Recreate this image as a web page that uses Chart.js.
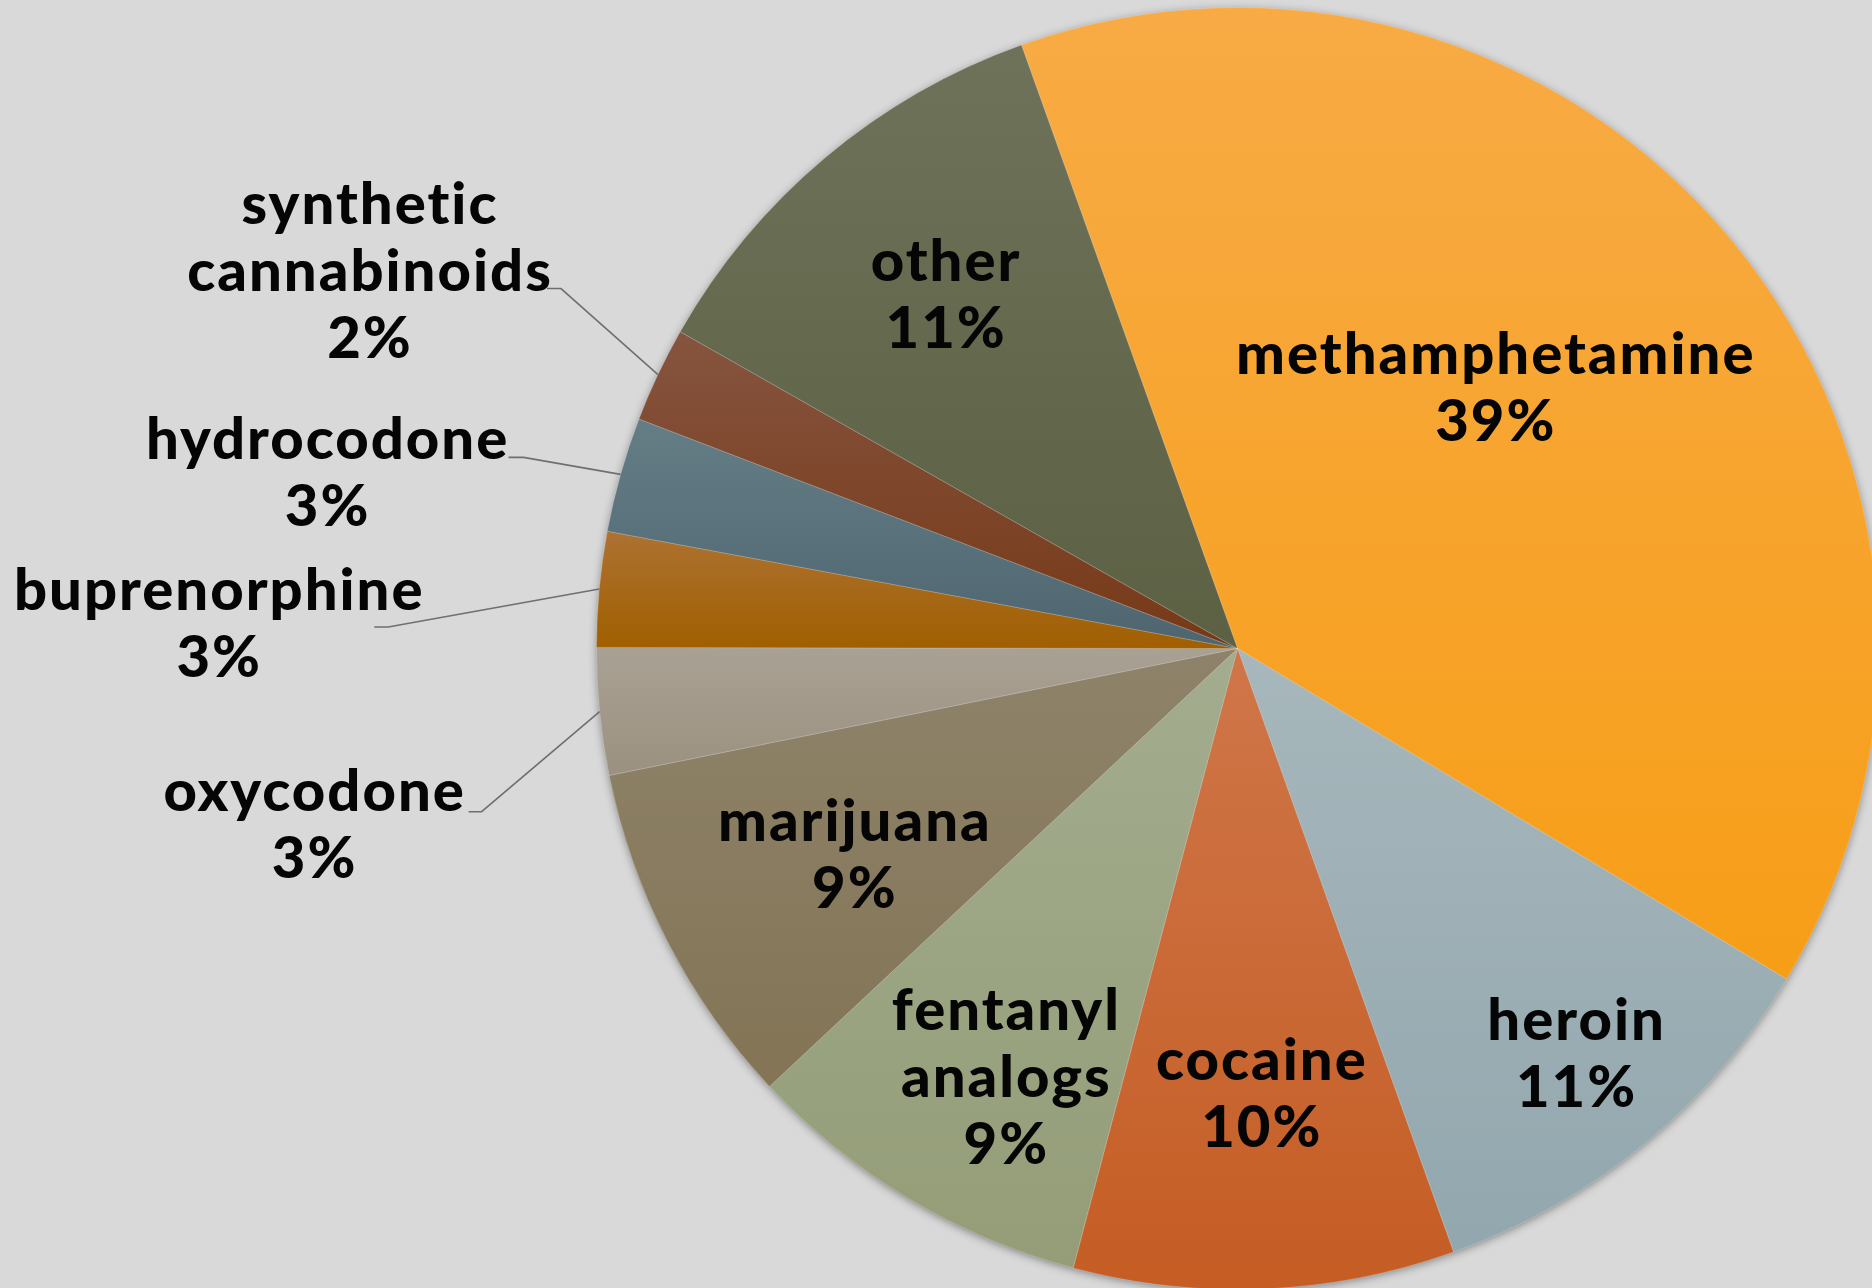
<!DOCTYPE html>
<html>
<head>
<meta charset="utf-8">
<script src="https://cdn.jsdelivr.net/npm/chart.js@4.4.1/dist/chart.umd.min.js"></script>
<style>
  html, body { margin: 0; padding: 0; background: #d9d9d9; overflow: hidden; width: 1872px; height: 1288px; }
  #wrap { position: absolute; left: 0; top: 0; width: 1900px; height: 1320px; }
</style>
</head>
<body>
<div id="wrap"><canvas id="myChart"></canvas></div>
<script>
    // data (share of cases, %)
    const categories = ['methamphetamine', 'heroin', 'cocaine', ['fentanyl', 'analogs'], 'marijuana',
        'oxycodone', 'buprenorphine', 'hydrocodone', ['synthetic', 'cannabinoids'], 'other'];
    const shares = [39.1, 10.9, 9.6, 8.9, 8.8, 3.2, 2.9, 2.9, 2.4, 11.3];

    // [top colour, bottom colour] of each slice gradient
    const sliceColors = [
        ['#f8ab45', '#f79e17'],
        ['#a7b7bc', '#92a7ae'],
        ['#cf7649', '#c55d24'],
        ['#a3ac8e', '#949d77'],
        ['#8e836a', '#837455'],
        ['#a9a194', '#9b9180'],
        ['#ad7232', '#a05f00'],
        ['#657e86', '#4e656f'],
        ['#86543f', '#763917'],
        ['#6d7259', '#5c6144']
    ];

    // label placement: inside -> angle shift (deg) and fraction of radius,
    // outside -> offsets from the rim point (elbow, line end, text centre)
    const labelLayout = [
        { da: -5.8, f: 0.571 },
        { da: -0.5, f: 0.826 },
        { da: -0.7, f: 0.697 },
        { da: -2.6, f: 0.761 },
        { da: -1.2, f: 0.679 },
        { out: true, elbow: [-118, 100], end: [-131, 100], text: [-285, 114] },
        { out: true, elbow: [-211, 38], end: [-225, 38], text: [-380, 36] },
        { out: true, elbow: [-97, -17], end: [-112, -17], text: [-293, -1] },
        { out: true, elbow: [-97, -86], end: [-111, -86], text: [-288, -102] },
        { da: 0.5, f: 0.714 }
    ];

    const total = shares.reduce((a, b) => a + b, 0);
    const TAU = Math.PI * 2;

    function inArc(a, s, e) {
        const d = ((a - s) % TAU + TAU) % TAU;
        return d <= (e - s);
    }

    const sliceStyle = {
        id: 'sliceStyle',
        beforeDatasetsDraw(chart) {
            const ctx = chart.ctx;
            const arcs = chart.getDatasetMeta(0).data;
            const first = arcs[0];
            // soft shadow under the whole pie
            ctx.save();
            ctx.shadowColor = 'rgba(0,0,0,0.45)';
            ctx.shadowBlur = 10;
            ctx.shadowOffsetY = 2;
            ctx.fillStyle = '#9a9a9a';
            ctx.beginPath();
            ctx.arc(first.x, first.y, first.outerRadius - 1, 0, TAU);
            ctx.fill();
            ctx.restore();

            arcs.forEach((el, i) => {
                const p = el.getProps(['x', 'y', 'startAngle', 'endAngle', 'outerRadius'], true);
                const ys = [p.y, p.y + p.outerRadius * Math.sin(p.startAngle), p.y + p.outerRadius * Math.sin(p.endAngle)];
                if (inArc(Math.PI / 2, p.startAngle, p.endAngle)) ys.push(p.y + p.outerRadius);
                if (inArc(-Math.PI / 2, p.startAngle, p.endAngle)) ys.push(p.y - p.outerRadius);
                const g = ctx.createLinearGradient(0, Math.min(...ys), 0, Math.max(...ys));
                g.addColorStop(0, sliceColors[i][0]);
                g.addColorStop(1, sliceColors[i][1]);
                el.options = Object.assign({}, el.options, { backgroundColor: g });
            });
        },
        afterDatasetsDraw(chart) {
            const ctx = chart.ctx;
            const arcs = chart.getDatasetMeta(0).data;
            const lineH = 67;
            ctx.save();
            ctx.font = '900 58px Lato';
            ctx.letterSpacing = '2px';
            ctx.fillStyle = '#050505';
            ctx.textAlign = 'center';
            ctx.textBaseline = 'middle';
            arcs.forEach((el, i) => {
                const p = el.getProps(['x', 'y', 'startAngle', 'endAngle', 'outerRadius'], true);
                const mid = (p.startAngle + p.endAngle) / 2;
                const name = [].concat(categories[i]);
                const lines = name.concat(Math.round(shares[i] / total * 100) + '%');
                const L = labelLayout[i];
                let tx, ty;
                if (L.out) {
                    const ex = p.x + p.outerRadius * Math.cos(mid);
                    const ey = p.y + p.outerRadius * Math.sin(mid);
                    ctx.save();
                    ctx.strokeStyle = '#6f6f6f';
                    ctx.lineWidth = 1.6;
                    ctx.beginPath();
                    ctx.moveTo(ex, ey);
                    ctx.lineTo(ex + L.elbow[0], ey + L.elbow[1]);
                    ctx.lineTo(ex + L.end[0], ey + L.end[1]);
                    ctx.stroke();
                    ctx.restore();
                    tx = ex + L.text[0];
                    ty = ey + L.text[1];
                } else {
                    const a = mid + L.da * Math.PI / 180;
                    tx = p.x + p.outerRadius * L.f * Math.cos(a);
                    ty = p.y + p.outerRadius * L.f * Math.sin(a);
                }
                lines.forEach((t, k) => {
                    ctx.fillText(t, tx, ty + (k - (lines.length - 1) / 2) * lineH);
                });
            });
            ctx.restore();
        }
    };

    const ctx = document.getElementById('myChart').getContext('2d');
    const myChart = new Chart(ctx, {
        type: 'pie',
        data: {
            labels: categories,
            datasets: [{
                data: shares,
                backgroundColor: sliceColors.map(c => c[1]),
                borderColor: 'rgba(255,255,255,0.18)',
                borderWidth: 1
            }]
        },
        options: {
            responsive: true,
            maintainAspectRatio: false,
            animation: false,
            events: [],
            rotation: -19.7,
            layout: { padding: { left: 596, top: 7, right: 21, bottom: 30 } },
            plugins: {
                legend: { display: false },
                tooltip: { enabled: false }
            }
        },
        plugins: [sliceStyle]
    });
</script>
</body>
</html>
